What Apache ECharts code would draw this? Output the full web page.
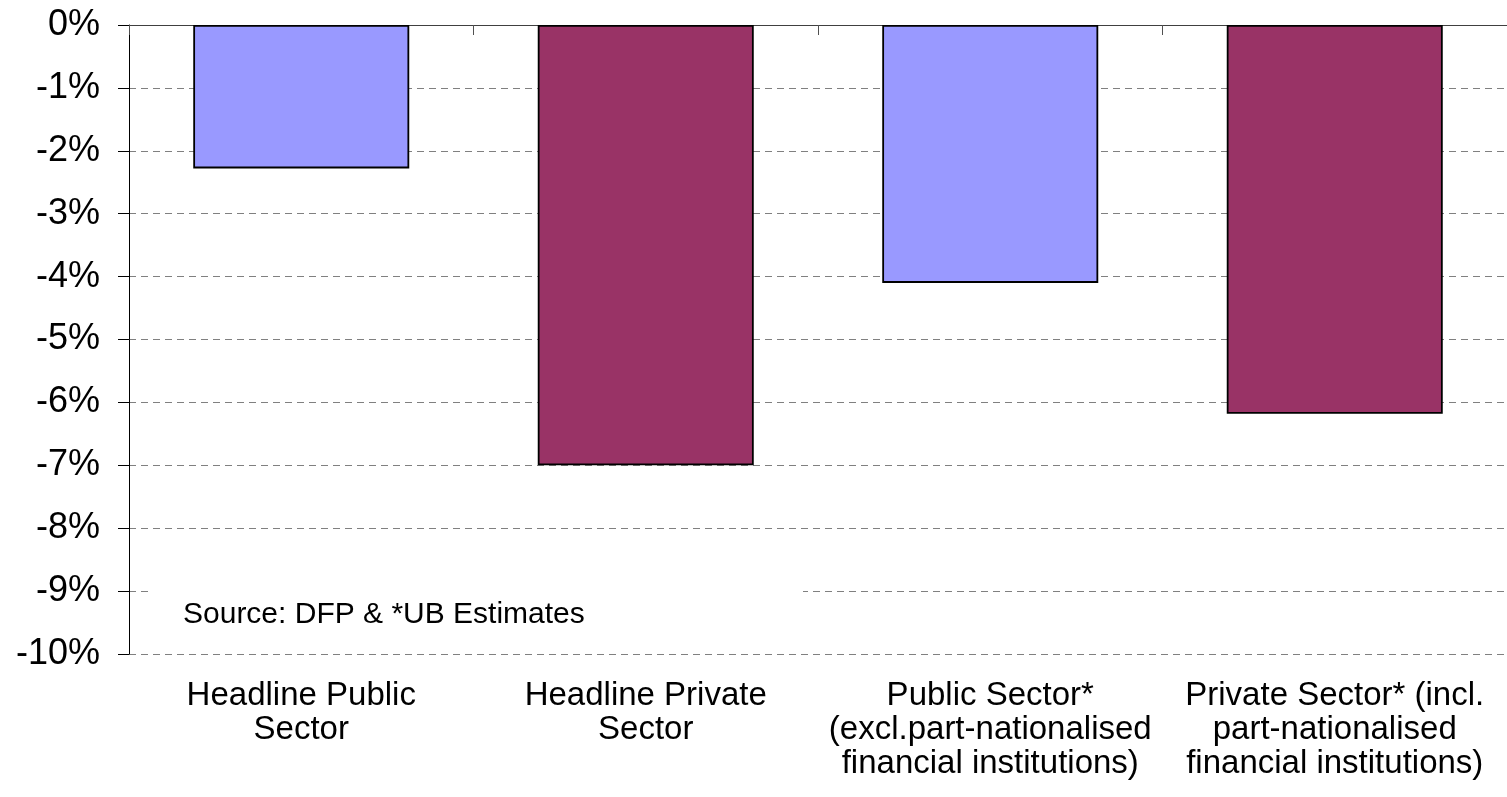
<!DOCTYPE html>
<html>
<head>
<meta charset="utf-8">
<script src="https://cdn.jsdelivr.net/npm/echarts@6/dist/echarts.min.js"></script>
<style>
  html, body { margin: 0; padding: 0; background: #fff; overflow: hidden; }
  #chart { width: 1507px; height: 797px; }
</style>
</head>
<body>
<div id="chart"></div>
<script>
// Change in employment by sector (%)
const categories = [
  'Headline Public\nSector',
  'Headline Private\nSector',
  'Public Sector*\n(excl.part-nationalised\nfinancial institutions)',
  'Private Sector* (incl.\npart-nationalised\nfinancial institutions)'
];
const values = [-2.28, -7.0, -4.1, -6.18];
const barColors = ['#9999FF', '#993366', '#9999FF', '#993366'];
const yTicks = { min: -10, max: 0, interval: 1 };
const sourceNote = 'Source: DFP & *UB Estimates';

const FONT = 'Arial, "Liberation Sans", sans-serif';
const chart = echarts.init(document.getElementById('chart'), null, { renderer: 'canvas' });

chart.setOption({
  animation: false,
  backgroundColor: '#ffffff',
  grid: { left: 129, right: 0, top: 25, bottom: 143, containLabel: false },
  xAxis: [
    {
      // labels along the bottom edge
      type: 'category',
      data: categories,
      position: 'bottom',
      axisLine: { show: false, onZero: false },
      axisTick: { show: false },
      axisLabel: {
        color: '#000',
        fontFamily: FONT,
        fontSize: 33,
        lineHeight: 34,
        margin: 25,
        interval: 0
      },
      splitLine: { show: false }
    },
    {
      // zero line along the top with boundary ticks
      type: 'category',
      data: categories,
      position: 'top',
      axisLine: { show: true, onZero: false, lineStyle: { color: '#404040', width: 1 } },
      axisTick: { show: true, inside: true, length: 10, lineStyle: { color: '#505050', width: 1 } },
      axisLabel: { show: false },
      splitLine: { show: false }
    }
  ],
  yAxis: {
    type: 'value',
    min: yTicks.min,
    max: yTicks.max,
    interval: yTicks.interval,
    axisLine: { show: true, lineStyle: { color: '#000', width: 1 } },
    axisTick: { show: true, length: 11, lineStyle: { color: '#000', width: 1 } },
    axisLabel: {
      color: '#000',
      fontFamily: FONT,
      fontSize: 36,
      margin: 29,
      formatter: v => v + '%'
    },
    splitLine: {
      show: true,
      lineStyle: { color: '#808080', width: 1, type: [7, 5] }
    }
  },
  series: [
    {
      type: 'bar',
      xAxisIndex: 0,
      barWidth: '62.7%',
      data: values.map((v, i) => ({
        value: v,
        itemStyle: { color: barColors[i], borderColor: '#000', borderWidth: 1.8 }
      })),
      z: 3
    }
  ],
  graphic: [
    {
      type: 'rect',
      left: 153,
      top: 578,
      shape: { width: 650, height: 62 },
      style: { fill: '#ffffff' },
      z: 10
    },
    {
      type: 'text',
      x: 183,
      y: 615,
      style: {
        text: sourceNote,
        fill: '#000',
        font: '30px ' + FONT,
        textVerticalAlign: 'middle'
      },
      z: 11
    }
  ]
});
</script>
</body>
</html>
